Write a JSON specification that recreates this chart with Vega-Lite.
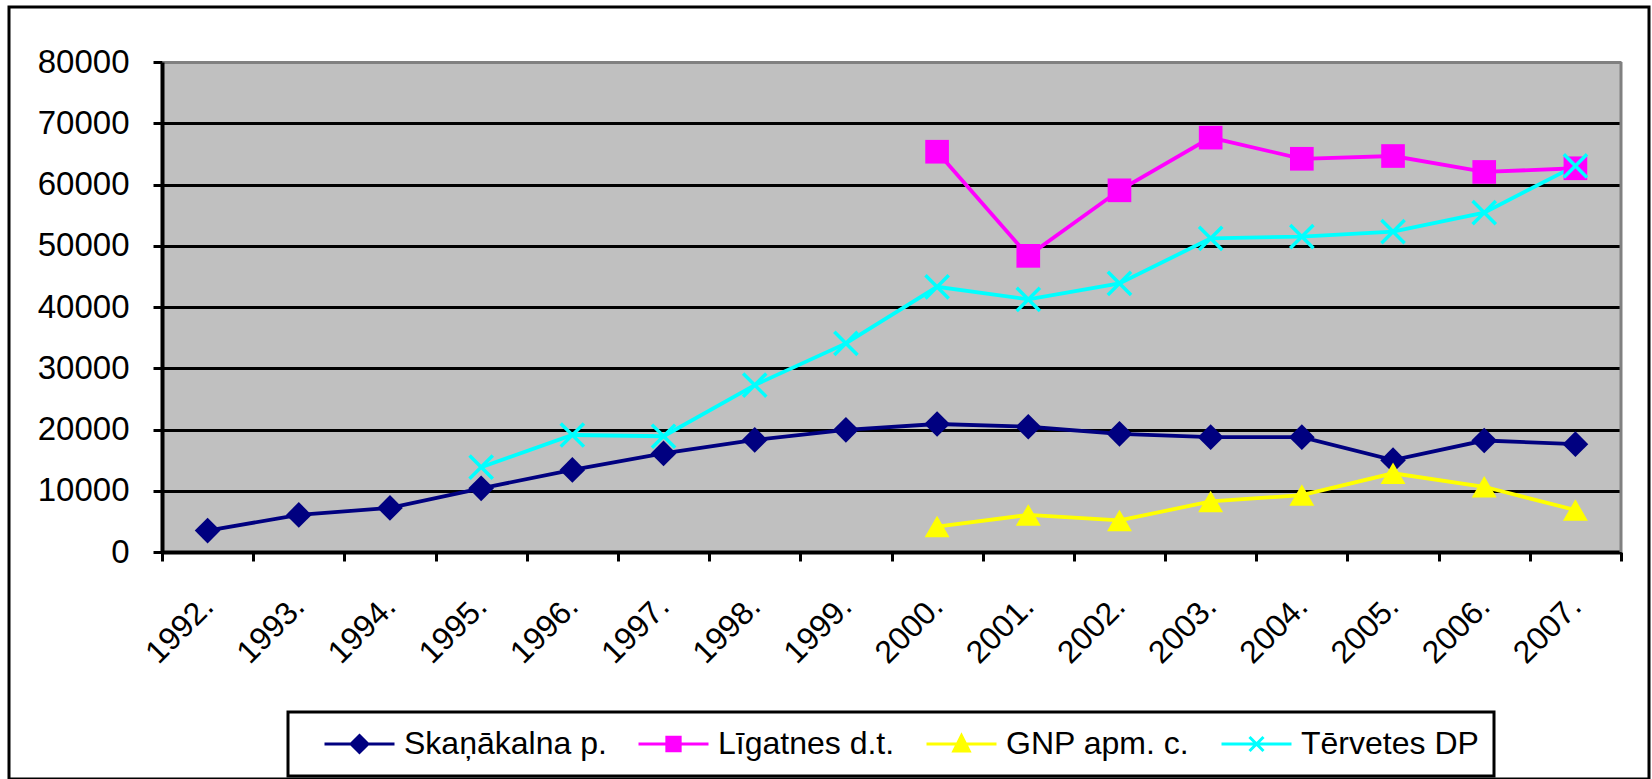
{
  "$schema": "https://vega.github.io/schema/vega-lite/v6.json",
  "width": 1640,
  "height": 772,
  "autosize": {"type": "none"},
  "padding": {"left": 9, "top": 7, "right": 3, "bottom": 0},
  "background": "white",
  "config": {
    "view": {"fill": "white", "stroke": "black", "strokeWidth": 3},
    "font": "Liberation Sans"
  },
  "data": {
    "values": [
      {"year": "1992.", "series": "Skaņākalna p.", "value": 3500},
      {"year": "1993.", "series": "Skaņākalna p.", "value": 6050},
      {"year": "1994.", "series": "Skaņākalna p.", "value": 7200},
      {"year": "1995.", "series": "Skaņākalna p.", "value": 10400},
      {"year": "1996.", "series": "Skaņākalna p.", "value": 13400},
      {"year": "1997.", "series": "Skaņākalna p.", "value": 16100},
      {"year": "1998.", "series": "Skaņākalna p.", "value": 18300},
      {"year": "1999.", "series": "Skaņākalna p.", "value": 19950},
      {"year": "2000.", "series": "Skaņākalna p.", "value": 20900},
      {"year": "2001.", "series": "Skaņākalna p.", "value": 20450},
      {"year": "2002.", "series": "Skaņākalna p.", "value": 19300},
      {"year": "2003.", "series": "Skaņākalna p.", "value": 18750},
      {"year": "2004.", "series": "Skaņākalna p.", "value": 18750},
      {"year": "2005.", "series": "Skaņākalna p.", "value": 15000},
      {"year": "2006.", "series": "Skaņākalna p.", "value": 18200},
      {"year": "2007.", "series": "Skaņākalna p.", "value": 17600},
      {"year": "2000.", "series": "Līgatnes d.t.", "value": 65350},
      {"year": "2001.", "series": "Līgatnes d.t.", "value": 48350},
      {"year": "2002.", "series": "Līgatnes d.t.", "value": 59050},
      {"year": "2003.", "series": "Līgatnes d.t.", "value": 67650},
      {"year": "2004.", "series": "Līgatnes d.t.", "value": 64200},
      {"year": "2005.", "series": "Līgatnes d.t.", "value": 64650},
      {"year": "2006.", "series": "Līgatnes d.t.", "value": 62050},
      {"year": "2007.", "series": "Līgatnes d.t.", "value": 62650},
      {"year": "2000.", "series": "GNP apm. c.", "value": 4150},
      {"year": "2001.", "series": "GNP apm. c.", "value": 6050},
      {"year": "2002.", "series": "GNP apm. c.", "value": 5150},
      {"year": "2003.", "series": "GNP apm. c.", "value": 8250},
      {"year": "2004.", "series": "GNP apm. c.", "value": 9300},
      {"year": "2005.", "series": "GNP apm. c.", "value": 12850},
      {"year": "2006.", "series": "GNP apm. c.", "value": 10650},
      {"year": "2007.", "series": "GNP apm. c.", "value": 6850},
      {"year": "1995.", "series": "Tērvetes DP", "value": 13850},
      {"year": "1996.", "series": "Tērvetes DP", "value": 19100},
      {"year": "1997.", "series": "Tērvetes DP", "value": 18900},
      {"year": "1998.", "series": "Tērvetes DP", "value": 27250},
      {"year": "1999.", "series": "Tērvetes DP", "value": 34050},
      {"year": "2000.", "series": "Tērvetes DP", "value": 43300},
      {"year": "2001.", "series": "Tērvetes DP", "value": 41250},
      {"year": "2002.", "series": "Tērvetes DP", "value": 43850},
      {"year": "2003.", "series": "Tērvetes DP", "value": 51200},
      {"year": "2004.", "series": "Tērvetes DP", "value": 51500},
      {"year": "2005.", "series": "Tērvetes DP", "value": 52300},
      {"year": "2006.", "series": "Tērvetes DP", "value": 55400},
      {"year": "2007.", "series": "Tērvetes DP", "value": 63050}
    ]
  },
  "encoding": {
    "x": {
      "field": "year",
      "type": "nominal",
      "scale": {
        "type": "band",
        "domain": ["1992.", "1993.", "1994.", "1995.", "1996.", "1997.", "1998.", "1999.", "2000.", "2001.", "2002.", "2003.", "2004.", "2005.", "2006.", "2007."],
        "range": [153, 1612],
        "paddingInner": 0,
        "paddingOuter": 0
      },
      "axis": {
        "title": null,
        "orient": "bottom",
        "offset": -227,
        "tickBand": "extent",
        "labelAngle": -45,
        "labelAlign": "right",
        "labelBaseline": "middle",
        "labelFont": "Liberation Sans",
        "labelFontSize": 32,
        "labelColor": "black",
        "labelPadding": 40,
        "labelOverlap": false,
        "tickSize": 9,
        "tickWidth": 3,
        "tickColor": "black",
        "domainColor": "black",
        "domainWidth": 4,
        "grid": false
      }
    }
  },
  "resolve": {"axis": {"y": "independent"}},
  "layer": [
    {
      "mark": {"type": "point", "filled": true, "size": 0, "strokeWidth": 0},
      "encoding": {
        "y": {
          "field": "value",
          "type": "quantitative",
          "scale": {"domain": [0, 80000], "range": [545, 55], "nice": false},
          "axis": {
            "title": null,
            "orient": "left",
            "values": [40000],
            "labels": false,
            "ticks": false,
            "domain": false,
            "grid": true,
            "gridColor": "#c0c0c0",
            "gridWidth": 490
          }
        },
        "fill": {
          "field": "series",
          "type": "nominal",
          "scale": {"domain": ["Skaņākalna p.", "Līgatnes d.t.", "GNP apm. c.", "Tērvetes DP"], "range": ["#000080", "#ff00ff", "#ffff00", "#00ffff"]},
          "legend": {
            "title": null,
            "orient": "none",
            "legendX": 279,
            "legendY": 705,
            "direction": "horizontal",
            "columns": 4,
            "padding": 15,
            "strokeColor": "black",
            "fillColor": "white",
            "clipHeight": 34,
            "symbolSize": 4900,
            "symbolStrokeWidth": 3,
            "symbolOpacity": 1,
            "symbolOffset": 20,
            "labelOffset": 8,
            "columnPadding": 10,
            "labelFont": "Liberation Sans",
            "labelFontSize": 32,
            "labelColor": "black",
            "labelLimit": 400,
            "encode": {"legend": {"update": {"strokeWidth": {"value": 3}}}}
          }
        },
        "stroke": {
          "field": "series",
          "type": "nominal",
          "scale": {"domain": ["Skaņākalna p.", "Līgatnes d.t.", "GNP apm. c.", "Tērvetes DP"], "range": ["#000080", "#ff00ff", "#ffff00", "#00ffff"]},
          "legend": {
            "title": null,
            "orient": "none",
            "legendX": 279,
            "legendY": 705,
            "direction": "horizontal",
            "columns": 4,
            "padding": 15,
            "strokeColor": "black",
            "fillColor": "white",
            "clipHeight": 34,
            "symbolSize": 4900,
            "symbolStrokeWidth": 3,
            "symbolOpacity": 1,
            "symbolOffset": 20,
            "labelOffset": 8,
            "columnPadding": 10,
            "labelFont": "Liberation Sans",
            "labelFontSize": 32,
            "labelColor": "black",
            "labelLimit": 400,
            "encode": {"legend": {"update": {"strokeWidth": {"value": 3}}}}
          }
        },
        "shape": {
          "field": "series",
          "type": "nominal",
          "scale": {
            "domain": ["Skaņākalna p.", "Līgatnes d.t.", "GNP apm. c.", "Tērvetes DP"],
            "range": [
              "M-1,0H1M0,-0.24L0.24,0L0,0.24L-0.24,0Z",
              "M-1,0H1M-0.19,-0.19H0.19V0.19H-0.19Z",
              "M-1,0H1M0,-0.24L0.22,0.2L-0.22,0.2Z",
              "M-1,0H1M-0.2,-0.2L0.2,0.2M-0.2,0.2L0.2,-0.2"
            ]
          },
          "legend": {
            "title": null,
            "orient": "none",
            "legendX": 279,
            "legendY": 705,
            "direction": "horizontal",
            "columns": 4,
            "padding": 15,
            "strokeColor": "black",
            "fillColor": "white",
            "clipHeight": 34,
            "symbolSize": 4900,
            "symbolStrokeWidth": 3,
            "symbolOpacity": 1,
            "symbolOffset": 20,
            "labelOffset": 8,
            "columnPadding": 10,
            "labelFont": "Liberation Sans",
            "labelFontSize": 32,
            "labelColor": "black",
            "labelLimit": 400,
            "encode": {"legend": {"update": {"strokeWidth": {"value": 3}}}}
          }
        }
      }
    },
    {
      "transform": [{"filter": "datum.year === '2007.' && datum.series === 'Skaņākalna p.'"}],
      "mark": {"type": "rule", "color": "#808080", "strokeWidth": 3},
      "encoding": {
        "x": {"datum": "2007.", "type": "nominal", "bandPosition": 1},
        "y": {"datum": 0, "type": "quantitative", "axis": null},
        "y2": {"datum": 80000}
      }
    },
    {
      "mark": {"type": "line", "strokeWidth": 3.8},
      "encoding": {
        "y": {
          "field": "value",
          "type": "quantitative",
          "axis": {
            "title": null,
            "orient": "left",
            "offset": -153,
            "values": [0, 10000, 20000, 30000, 40000, 50000, 60000, 70000, 80000],
            "format": "d",
            "labelFont": "Liberation Sans",
            "labelFontSize": 33,
            "labelColor": "black",
            "labelPadding": 24,
            "tickSize": 9,
            "tickWidth": 3,
            "tickColor": "black",
            "domainColor": "black",
            "domainWidth": 4,
            "grid": true,
            "gridColor": {"condition": {"test": "datum.value === 80000", "value": "#808080"}, "value": "black"},
            "gridWidth": 3
          }
        },
        "color": {
          "field": "series",
          "type": "nominal",
          "scale": {"domain": ["Tērvetes DP", "GNP apm. c.", "Līgatnes d.t.", "Skaņākalna p."], "range": ["#00ffff", "#ffff00", "#ff00ff", "#000080"]},
          "legend": null
        }
      }
    },
    {
      "transform": [{"filter": "datum.series === 'Skaņākalna p.'"}],
      "mark": {"type": "point", "filled": true, "shape": "diamond", "size": 660, "opacity": 1, "strokeWidth": 0},
      "encoding": {
        "y": {"field": "value", "type": "quantitative", "axis": null},
        "color": {"field": "series", "type": "nominal", "legend": null}
      }
    },
    {
      "transform": [{"filter": "datum.series === 'Līgatnes d.t.'"}],
      "mark": {"type": "point", "filled": true, "shape": "square", "size": 560, "opacity": 1, "strokeWidth": 0},
      "encoding": {
        "y": {"field": "value", "type": "quantitative", "axis": null},
        "color": {"field": "series", "type": "nominal", "legend": null}
      }
    },
    {
      "transform": [{"filter": "datum.series === 'GNP apm. c.'"}],
      "mark": {"type": "point", "filled": true, "shape": "triangle-up", "size": 620, "opacity": 1, "strokeWidth": 0},
      "encoding": {
        "y": {"field": "value", "type": "quantitative", "axis": null},
        "color": {"field": "series", "type": "nominal", "legend": null}
      }
    },
    {
      "transform": [{"filter": "datum.series === 'Tērvetes DP'"}],
      "mark": {"type": "point", "filled": false, "shape": "M-1,-1L1,1M-1,1L1,-1", "size": 540, "opacity": 1, "strokeWidth": 3.5},
      "encoding": {
        "y": {"field": "value", "type": "quantitative", "axis": null},
        "color": {"field": "series", "type": "nominal", "legend": null}
      }
    }
  ]
}
